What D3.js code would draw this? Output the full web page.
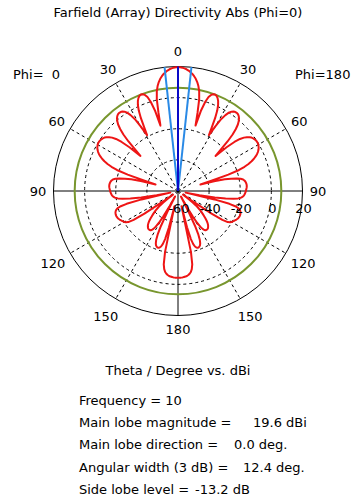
<!DOCTYPE html>
<html><head><meta charset="utf-8">
<script src="https://cdn.jsdelivr.net/npm/d3@7"></script>
<style>
body{margin:0;background:#fff}
text{font-family:"DejaVu Sans",sans-serif;font-size:13px;fill:#000}
</style></head>
<body><svg id="c" width="360" height="504"></svg>
<script>
// ---- data ----
const titleText = "Farfield (Array) Directivity Abs (Phi=0)";
const thetaDeg = [0,1,2,3,4,5,6,7,8,9,10,11,12,13,14,15,16,17,18,19,20,21,22,23,24,25,26,27,28,29,30,31,32,33,34,35,36,37,38,39,40,41,42,43,44,45,46,47,48,49,50,51,52,53,54,55,56,57,58,59,60,61,62,63,64,65,66,67,68,69,70,71,72,73,74,75,76,77,78,79,80,81,82,83,84,85,86,87,88,89,90,91,92,93,94,95,96,97,98,99,100,101,102,103,104,105,106,107,108,109,110,111,112,113,114,115,116,117,118,119,120,121,122,123,124,125,126,127,128,129,130,131,132,133,134,135,136,137,138,139,140,141,142,143,144,145,146,147,148,149,150,151,152,153,154,155,156,157,158,159,160,161,162,163,164,165,166,167,168,169,170,171,172,173,174,175,176,177,178,179,180];
const dirDbi = [19.6,19.5,19.3,18.9,18.4,17.7,16.8,15.8,14.5,13.0,11.1,8.7,5.5,0.5,-8,-16.5,-6,0,3.5,5.3,
 6.2,6.4,6.0,5.0,3.4,1.0,-2.5,-7.5,-14,-19,
 -12,-6,-2.5,0,1.5,2.3,2.7,2.8,2.6,2.0,1.0,-0.5,-2.5,-5.5,-9.5,-15,-22,-27,
 -18,-12,-8,-5.5,-3.8,-2.5,-1.6,-1.0,-0.6,-0.3,-0.2,-0.2,-0.4,-0.8,-1.3,-2.0,-2.9,-4.0,-5.4,-7.0,-9.0,-11.5,-14.5,-18.5,-26,-38,-45,
 -36,-29,-25,-21.5,-19,-17.5,-16.8,-16.3,-16.0,-15.8,-15.7,-15.7,-15.8,-16.0,-16.2,-16.4,-16.6,-16.9,-17.2,-17.6,-18.2,-19.2,-21,-24,-29,-36,-46,-55,
 -36,-26,-21.5,-19.5,-18.5,-17.9,-17.5,-17.3,-17.2,-17.2,-17.3,-17.5,-17.8,-18.2,-18.7,-19.2,-19.7,-20.2,-21,-22.3,-26,-34,-48,-56,
 -52,-48,-45,-43,-41,-39.5,-38,-36.5,-35,-33.5,-32.3,-31.3,-30.5,-29.9,-29.4,-29.1,-29,-29,-29.2,-29.8,-31,-33,-36,-41,-49,-56,
 -45,-35,-29,-25.5,-23.5,-22.3,-21.7,-21.4,-21.4,-21.8,-22.7,-24.5,-28,-36,-50,
 -20,-12,-9,-7.3,-6.3,-5.6,-5.1,-4.8,-4.6,-4.4,-4.3,-4.3,-4.3];
const radialTicks = [-60,-40,-20,0,20];
const gridCircles = [-40,-20,0];
const angleTicks = [0,30,60,90,120,150,180];
const dashedSpokes = [30,60,120,150];
const mainLobeMag = 19.6, mainLobeDir = 0.0, angularWidth = 12.4, sideLobeLevel = -13.2, frequency = 10;
const infoLabels = ["Frequency = " + frequency, "Main lobe magnitude =", "Main lobe direction =", "Angular width (3 dB) =", "Side lobe level ="];
const infoValues = ["", mainLobeMag.toFixed(1) + " dBi", mainLobeDir.toFixed(1) + " deg.", angularWidth.toFixed(1) + " deg.", sideLobeLevel.toFixed(1) + " dB"];
const infoValueX = [0, 253, 234, 243, 195];

// ---- layout ----
const svg = d3.select('#c');
const cx = 178, cy = 191, R = 124.5;
const rad = Math.PI / 180;
const r = d3.scaleLinear().domain([-60, 20]).range([0, R]).clamp(true);
const g = svg.append('g').attr('transform', `translate(${cx},${cy})`);

svg.append('text').attr('x', 178).attr('y', 17).attr('text-anchor', 'middle').text(titleText);

// grid circles
g.selectAll('circle.grid').data(gridCircles).join('circle')
  .attr('r', d => r(d)).attr('fill', 'none').attr('stroke', '#000')
  .attr('stroke-width', 1).attr('stroke-dasharray', '3,3');
g.append('circle').attr('r', r(20)).attr('fill', 'none').attr('stroke', '#000').attr('stroke-width', 1);

// spokes
const spokes = [];
dashedSpokes.forEach(a => { spokes.push({a, s: 1}); spokes.push({a, s: -1}); });
g.selectAll('line.spoke').data(spokes).join('line')
  .attr('x1', 0).attr('y1', 0)
  .attr('x2', d => d.s * R * Math.sin(d.a * rad)).attr('y2', d => -R * Math.cos(d.a * rad))
  .attr('stroke', '#000').attr('stroke-width', 1).attr('stroke-dasharray', '3,3');
g.append('line').attr('x1', -R).attr('x2', R).attr('y1', 0).attr('y2', 0).attr('stroke', '#000');
g.append('line').attr('x1', 0).attr('x2', 0).attr('y1', -R).attr('y2', R).attr('stroke', '#000');

// side lobe level circle
g.append('circle').attr('r', r(mainLobeMag + sideLobeLevel)).attr('fill', 'none')
  .attr('stroke', '#78962e').attr('stroke-width', 2);

// pattern
const pts = [];
thetaDeg.forEach((t, i) => pts.push([t * rad, r(dirDbi[i])]));            // Phi=180 side (right)
for (let i = thetaDeg.length - 2; i > 0; i--) pts.push([2 * Math.PI - thetaDeg[i] * rad, r(dirDbi[i])]); // Phi=0 side (left)
const line = d3.lineRadial().angle(d => d[0]).radius(d => d[1]).curve(d3.curveLinearClosed);
g.append('path').attr('d', line(pts)).attr('fill', 'none').attr('stroke', '#ee1515')
  .attr('stroke-width', 2).attr('stroke-linejoin', 'round');

// beam lines
const beam = [{a: mainLobeDir - angularWidth / 2, c: '#2a8ae6'}, {a: mainLobeDir + angularWidth / 2, c: '#2a8ae6'}, {a: mainLobeDir, c: '#0a0ac8'}];
g.selectAll('line.beam').data(beam).join('line')
  .attr('x1', 0).attr('y1', 0)
  .attr('x2', d => R * Math.sin(d.a * rad)).attr('y2', d => -R * Math.cos(d.a * rad))
  .attr('stroke', d => d.c).attr('stroke-width', 2);

// angle labels
const alab = [];
angleTicks.forEach(a => { alab.push({a, s: 1}); if (a > 0 && a < 180) alab.push({a, s: -1}); });
const labR = a => (a > 90 && a < 180) ? 144.5 : (a === 180 ? 138 : 140);
g.selectAll('text.ang').data(alab).join('text')
  .attr('x', d => d.s * labR(d.a) * Math.sin(d.a * rad)).attr('y', d => -labR(d.a) * Math.cos(d.a * rad))
  .attr('dy', '0.36em').attr('text-anchor', 'middle').text(d => d.a);

// radial labels
g.selectAll('text.rl').data(radialTicks).join('text')
  .attr('x', d => r(d) + 1).attr('y', 22).attr('text-anchor', 'middle').text(d => d);

svg.append('text').attr('x', 13).attr('y', 79).attr('xml:space', 'preserve').style('white-space', 'pre').text('Phi=  0');
svg.append('text').attr('x', 295).attr('y', 79).text('Phi=180');

svg.append('text').attr('x', 178).attr('y', 375).attr('text-anchor', 'middle').text('Theta / Degree vs. dBi');
infoLabels.forEach((t, i) => {
  svg.append('text').attr('x', 79).attr('y', 405 + i * 22.2).text(t);
  if (infoValues[i]) svg.append('text').attr('x', infoValueX[i]).attr('y', 405 + i * 22.2).text(infoValues[i]);
});
</script></body></html>
